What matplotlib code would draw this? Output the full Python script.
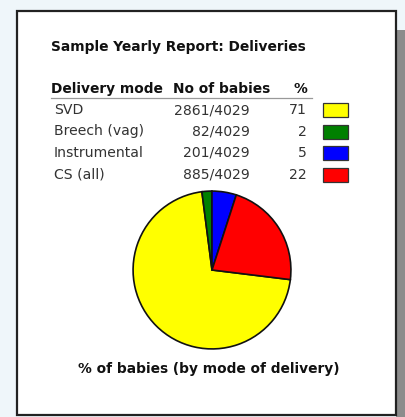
import matplotlib
matplotlib.use("Agg")
import matplotlib.pyplot as plt
import matplotlib.patches as mpatches

# ── data ───────────────────────────────────────────────────────────────────
modes = ["SVD", "Breech (vag)", "Instrumental", "CS (all)"]
babies = [2861, 82, 201, 885]
total = 4029
pct = [71, 2, 5, 22]
colors = ["#ffff00", "#008000", "#0000ff", "#ff0000"]

title = "Sample Yearly Report: Deliveries"
headers = ["Delivery mode", "No of babies", "%"]
caption = "% of babies (by mode of delivery)"

BG = "#eff6fa"
W, H = 406, 417
FS_B = 9.9   # bold text
FS_R = 10.1  # table body

fig = plt.figure(figsize=(W / 100, H / 100), dpi=100, facecolor=BG)

# full-figure pixel axes for the panel, table and texts
ax = fig.add_axes([0, 0, 1, 1])
ax.set_xlim(0, W)
ax.set_ylim(H, 0)
ax.axis("off")

# shadow + white panel
ax.add_patch(mpatches.Rectangle((396, 30), 12, H, facecolor="#8c8c8c",
                                edgecolor="none", zorder=1))
ax.add_patch(mpatches.Rectangle((17, 10.5), 379, 404, facecolor="white",
                                edgecolor="#222222", linewidth=1.6, zorder=2))

ax.text(51, 47, title, fontsize=FS_B, fontweight="bold", color="#111111",
        ha="left", va="center", zorder=3)

# table header
hy = 89
ax.text(51, hy, headers[0], fontsize=FS_B, fontweight="bold", color="#111111",
        ha="left", va="center", zorder=3)
ax.text(270, hy, headers[1], fontsize=FS_B, fontweight="bold", color="#111111",
        ha="right", va="center", zorder=3)
ax.text(307, hy, headers[2], fontsize=FS_B, fontweight="bold", color="#111111",
        ha="right", va="center", zorder=3)
ax.plot([51, 312], [97.5, 97.5], color="#999999", linewidth=0.9, zorder=3)

row_y = [110, 131.5, 153, 174.5]
for y, m, n, p, c in zip(row_y, modes, babies, pct, colors):
    ax.text(54, y, m, fontsize=FS_R, color="#333333", ha="left", va="center", zorder=3)
    ax.text(250, y, f"{n}/{total}", fontsize=FS_R, color="#333333",
            ha="right", va="center", zorder=3)
    ax.text(307, y, f"{p}", fontsize=FS_R, color="#333333",
            ha="right", va="center", zorder=3)
    ax.add_patch(mpatches.Rectangle((323.5, y - 7), 25, 14, facecolor=c,
                                    edgecolor="#333333", linewidth=0.9, zorder=3))

ax.text(209, 369, caption, fontsize=FS_B, fontweight="bold", color="#111111",
        ha="center", va="center", zorder=3)

# ── pie ────────────────────────────────────────────────────────────────────
cx, cy, r = 212, 270, 80.5
pax = fig.add_axes([(cx - r) / W, (H - cy - r) / H, 2 * r / W, 2 * r / H])
pax.pie(babies, colors=colors, startangle=-7, counterclock=False,
        wedgeprops=dict(edgecolor="#111111", linewidth=1.2))
pax.set_xlim(-1.02, 1.02)
pax.set_ylim(-1.02, 1.02)
pax.set_zorder(5)

fig.savefig("out.png", dpi=100, facecolor=BG)
